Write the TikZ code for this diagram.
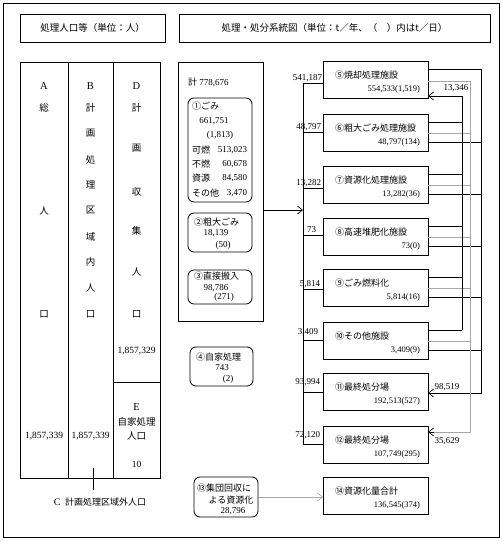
\documentclass[tikz,border=0pt]{standalone}
\usepackage{fontspec}
\setmainfont{Liberation Serif}
\newfontfamily\jp{Noto Sans CJK JP}
\usetikzlibrary{arrows.meta,calc}
\newcommand\jtx[1]{{\jp\fontsize{9}{10}\selectfont #1}}
\begin{document}
\begin{tikzpicture}[x=1pt,y=-1pt,
  every node/.style={inner sep=0pt, outer sep=0pt, font=\fontsize{9}{10}\selectfont},
  frame/.style={draw, line width=0.8pt},
  box/.style={draw, line width=0.8pt, minimum width=105pt, minimum height=37pt},
  rbox/.style={draw, line width=0.8pt, rounded corners=6pt},
  hbox/.style={draw, line width=0.8pt, minimum height=28pt, font=\jp\fontsize{9.5}{11}\selectfont},
  col/.style={draw, line width=0.8pt},
  ln/.style={line width=0.7pt},
  gry/.style={line width=0.6pt, draw=black!35},
  arr/.style={-{Straight Barb[length=5pt,width=8pt]}},
  vnum/.style={font=\fontsize{9.5}{10}\selectfont},
  bnum/.style={font=\fontsize{8.5}{10}\selectfont, anchor=east},
  btit/.style={font=\jp\fontsize{9}{10}\selectfont, anchor=west},
  vch/.style={font=\jp\fontsize{9.5}{10}\selectfont},
  vlt/.style={font=\fontsize{10.5}{11}\selectfont}
]
\useasboundingbox (0,0) rectangle (502,541);
\draw[frame] (3,3) rectangle (499,537);

% headers
\node[hbox, minimum width=145pt] (h1) at (92.5,28) {処理人口等（単位：人）};
\node[hbox, minimum width=311pt] (h2) at (334.5,28) {処理・処分系統図（単位：t／年、（　）内はt／日）};

% left table
\node[col, minimum width=48pt, minimum height=416pt] (colA) at (44,270) {};
\node[col, minimum width=45pt, minimum height=416pt] (colB) at (90.5,270) {};
\node[col, minimum width=47pt, minimum height=320pt] (colD) at (136.5,222) {};
\node[col, minimum width=47pt, minimum height=96pt] (colE) at (136.5,430) {};

\node[vlt] (la) at (44,86) {A};
\node[vlt] (lb) at (90.5,86) {B};
\node[vlt] (ld) at (136.5,86) {D};
\foreach \c/\y [count=\i] in {総/108,人/211,口/314}
  \node[vch] (ca\i) at (44,\y) {\c};
\foreach \c/\y [count=\i] in {計/108,画/133,処/160,理/185,区/210,域/237,内/262,人/288,口/314}
  \node[vch] (cb\i) at (90.5,\y) {\c};
\foreach \c/\y [count=\i] in {計/108,画/148,収/192,集/231,人/272,口/314}
  \node[vch] (cd\i) at (136.5,\y) {\c};
\node[vnum] (na) at (44,436) {1,857,339};
\node[vnum] (nb) at (90.5,436) {1,857,339};
\node[vnum] (nd) at (136.5,351) {1,857,329};
\node[vlt] (ce1) at (136.5,407) {E};
\node[vch] (ce2) at (136.5,422) {自家処理};
\node[vch] (ce3) at (136.5,436) {人口};
\node[vnum] (ce4) at (136.5,464) {10};

\coordinate (ct1) at (93,468);
\coordinate (ct2) at (93,490);
\draw[ln] (ct1) -- (ct2);
\node (clab) at (100,502) {{\fontsize{10}{11}\selectfont C}\ \ \jtx{計画処理区域外人口}};

% middle
\node[col, minimum width=85pt, minimum height=259pt] (mid) at (220.5,191.5) {};
\node[anchor=west] (tot) at (188,82) {\jtx{計} 778,676};

\node[rbox, minimum width=64pt, minimum height=104pt] (g1) at (220,150) {};
\node[anchor=west] (t1a) at (192,106) {\jtx{①ごみ}};
\node (t1b) at (214,121) {661,751};
\node (t1c) at (220,135) {(1,813)};
\node[anchor=west] (t1d) at (192,150) {\jtx{可燃}};
\node[anchor=west] (t1e) at (192,164) {\jtx{不燃}};
\node[anchor=west] (t1f) at (192,178) {\jtx{資源}};
\node[anchor=west] (t1g) at (192,193) {\jtx{その他}};
\node[anchor=east] (t1h) at (247,150) {513,023};
\node[anchor=east] (t1i) at (247,164) {60,678};
\node[anchor=east] (t1j) at (247,178) {84,580};
\node[anchor=east] (t1k) at (247,193) {3,470};

\node[rbox, minimum width=64pt, minimum height=39pt] (g2) at (220,232.5) {};
\node[anchor=west] (t2a) at (194,222) {\jtx{②粗大ごみ}};
\node (t2b) at (216,233) {18,139};
\node (t2c) at (223,245) {(50)};

\node[rbox, minimum width=64pt, minimum height=34pt] (g3) at (220,287) {};
\node[anchor=west] (t3a) at (194,276) {\jtx{③直接搬入}};
\node (t3b) at (216,288) {98,786};
\node (t3c) at (224,297) {(271)};

\node[rbox, minimum width=63pt, minimum height=39pt] (g4) at (221.5,366.5) {};
\node[anchor=west] (t4a) at (196,357) {\jtx{④自家処理}};
\node (t4b) at (222,368) {743};
\node (t4c) at (228,379) {(2)};

\node[rbox, minimum width=64pt, minimum height=40pt] (g13) at (226,497) {};
\node[anchor=west] (t13a) at (197,488) {\jtx{⑬集団回収に}};
\node (t13b) at (231,500) {\jtx{よる資源化}};
\node (t13c) at (233,511) {28,796};

% right boxes
\node[box] (b5) at (375.5,79.5) {};
\node[btit] (b5t) at (335,75) {⑤焼却処理施設};
\node[bnum] (b5v) at (420,89) {554,533(1,519)};
\node[box] (b6) at (375.5,132.5) {};
\node[btit] (b6t) at (335,128) {⑥粗大ごみ処理施設};
\node[bnum] (b6v) at (420,142) {48,797(134)};
\node[box] (b7) at (375.5,184.5) {};
\node[btit] (b7t) at (335,180) {⑦資源化処理施設};
\node[bnum] (b7v) at (420,194) {13,282(36)};
\node[box] (b8) at (375.5,236.5) {};
\node[btit] (b8t) at (335,232) {⑧高速堆肥化施設};
\node[bnum] (b8v) at (420,246) {73(0)};
\node[box] (b9) at (375.5,287.5) {};
\node[btit] (b9t) at (335,283) {⑨ごみ燃料化};
\node[bnum] (b9v) at (420,297) {5,814(16)};
\node[box] (b10) at (375.5,340.5) {};
\node[btit] (b10t) at (335,336) {⑩その他施設};
\node[bnum] (b10v) at (420,350) {3,409(9)};
\node[box] (b11) at (375.5,391.5) {};
\node[btit] (b11t) at (335,387) {⑪最終処分場};
\node[bnum] (b11v) at (420,401) {192,513(527)};
\node[box] (b12) at (375.5,444.5) {};
\node[btit] (b12t) at (335,440) {⑫最終処分場};
\node[bnum] (b12v) at (420,454) {107,749(295)};
\node[box] (b14) at (375.5,495.5) {};
\node[btit] (b14t) at (335,491) {⑭資源化量合計};
\node[bnum] (b14v) at (420,505) {136,545(374)};

% spine
\coordinate (s5) at (303,83);
\coordinate (s6) at (303,132);
\coordinate (s7) at (303,188);
\coordinate (s8) at (303,235);
\coordinate (s9) at (303,289);
\coordinate (s10) at (303,340);
\coordinate (s11) at (303,392);
\coordinate (s12) at (303,444);
\coordinate (sp) at (303,210);
\draw[ln] (s5) -- (s12);
\foreach \i in {5,...,12}
  \draw[ln] (s\i) -- (s\i -| b\i.west);
\draw[ln,arr] (mid.east |- sp) -- (sp);

\node[anchor=base east] (l5) at (322,80) {541,187};
\node[anchor=base east] (l6) at (321,129) {48,797};
\node[anchor=base east] (l7) at (321,185) {13,282};
\node[anchor=base east] (l8) at (316,232) {73};
\node[anchor=base east] (l9) at (320,286) {5,814};
\node[anchor=base east] (l10) at (318,334) {3,409};
\node[anchor=base east] (l11) at (320,384) {93,994};
\node[anchor=base east] (l12) at (320,437) {72,120};

% right side outputs
\foreach \b in {b6,b7,b8,b9,b10}{
  \draw[ln] ($(\b.north east)+(0,8)$) -- ++(34,0);
  \draw[gry] ($(\b.north east)+(0,19)$) -- ++(42,0);
  \draw[ln] ($(\b.north east)+(0,28)$) -- ++(53,0);
}
\draw[ln,arr] ($(b10.north east)+(34,8)$) |- ($(b5.south east)+(0,-2)$);
\draw[ln,arr] ($(b5.north east)+(0,8)$) -- ++(53,0) |- ($(b11.north east)+(0,20)$);
\draw[gry] ($(b5.north east)+(0,20)$) -- ++(42,0) |- ($(b12.north east)+(6,6)$);
\draw[ln,arr] ($(b12.north east)+(6,6)$) -- ($(b12.north east)+(0,6)$);
\node (r1) at (456,88) {13,346};
\node (r2) at (447,387) {98,519};
\node (r3) at (447,441) {35,629};

% group recovery arrow
\draw[gry,arr] (g13.east) -- (g13.east -| b14.west);
\end{tikzpicture}
\end{document}
